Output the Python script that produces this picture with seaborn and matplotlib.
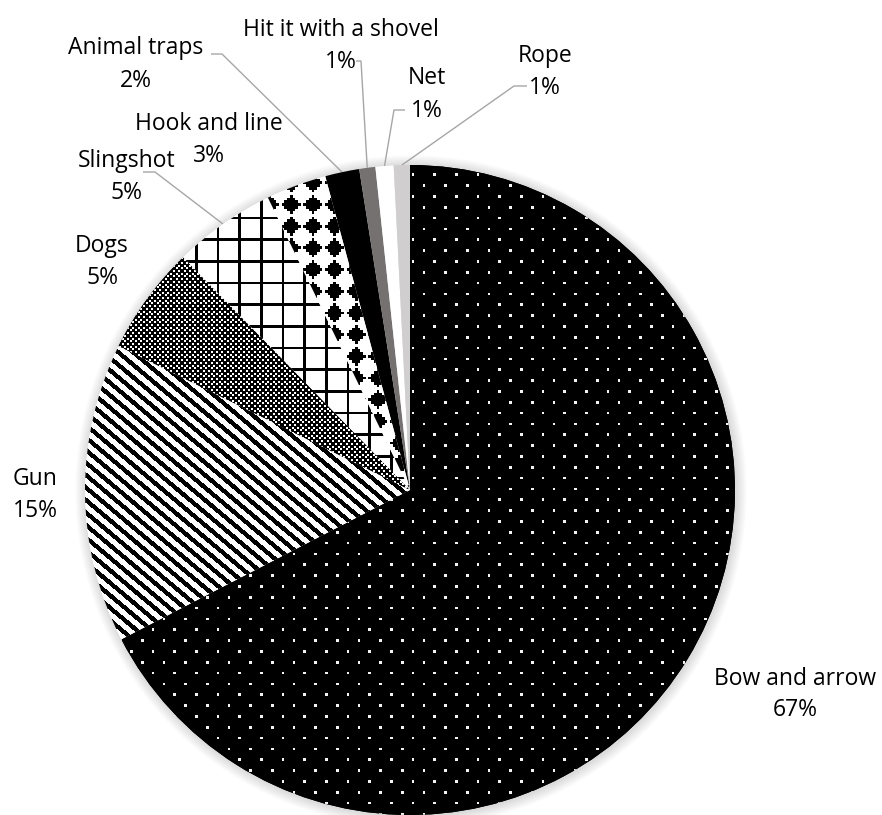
import numpy as np
import matplotlib
matplotlib.use("Agg")
import matplotlib.pyplot as plt
import seaborn as sns
from matplotlib.patches import Circle

# ---------------- data ----------------
categories = ["Bow and arrow", "Gun", "Dogs", "Slingshot", "Hook and line",
              "Animal traps", "Hit it with a shovel", "Net", "Rope"]
values = [67.4, 14.9, 5.4, 5.1, 3.0, 1.7, 0.8, 0.9, 0.8]
pct_labels = ["67%", "15%", "5%", "5%", "3%", "2%", "1%", "1%", "1%"]

# ---------------- style ----------------
sns.set_theme(style="white")
plt.rcParams["font.family"] = ["Open Sans", "DejaVu Sans"]

W, H = 882, 815
fig = plt.figure(figsize=(W / 100, H / 100), dpi=100)
ax = fig.add_axes([0, 0, 1, 1])

cx_px, cy_px, R = 410, 490, 325
center = (cx_px, H - cy_px)

base_colors = ["black", "white", "black", "white", "white",
               "black", "#767171", "white", "#d0cece"]

# soft shadow around the pie
for i in range(12, 0, -1):
    ax.add_patch(Circle((center[0] + 1.0, center[1] - 1.0), R + i * 0.9,
                        color="black", alpha=0.012, lw=0, zorder=0))

wedges, _ = ax.pie(values, startangle=90, counterclock=False, center=center,
                   radius=R, colors=base_colors,
                   wedgeprops=dict(linewidth=0), frame=True)
for w in wedges:
    w.set_zorder(2)

# ---------------- pattern fills ----------------
s = 21.67 / 8.0
yy, xx = np.mgrid[0:H, 0:W]
xc = xx + 0.5
yc = yy + 0.5
tx = np.floor(xc / s).astype(int) % 8
ty = np.floor(yc / s).astype(int) % 8

pat = {}
# Bow and arrow: black with white dots (staggered)
bow = np.zeros((H, W))
bow[((tx == 0) & (ty == 0)) | ((tx == 4) & (ty == 4))] = 0.95
pat[0] = bow
# Gun: wide downward diagonal stripes
slope = 0.84
pv = 12.5
phase = ((yc - xc * slope) % pv) / pv
gun = np.ones((H, W))
gun[phase < 0.46] = 0.0
pat[1] = gun
# Dogs: fine dark checker texture
pd = 5.4
fx = (xc % pd) / pd
fy = (yc % pd) / pd
cellx = np.floor(xc / (pd / 2)).astype(int)
celly = np.floor(yc / (pd / 2)).astype(int)
dogs = np.zeros((H, W))
dogs[((cellx + celly) % 2) == 0] = 1.0
dogs[((xc % (pd / 2)) > 2.0) | ((yc % (pd / 2)) > 2.0)] = 0.0
pat[2] = dogs
# Slingshot: large grid
grid = np.ones((H, W))
grid[(tx == 0) | (ty == 0)] = 0.0
pat[3] = grid
# Hook and line: solid diamonds
hook = np.ones((H, W))
hook[(np.abs(tx - 3) + np.abs(ty - 3)) <= 3] = 0.0
pat[4] = hook

for idx, arr in pat.items():
    im = ax.imshow(arr, cmap="gray", vmin=0, vmax=1, extent=[0, W, 0, H],
                   origin="upper", interpolation="nearest", zorder=3)
    im.set_clip_path(wedges[idx])

# ---------------- labels ----------------
# (x center, baseline of name, baseline of pct) in pixel coords from top
label_pos = {
    "Bow and arrow": (795, 685, 716),
    "Gun": (35, 485, 517),
    "Dogs": (102, 252, 284),
    "Slingshot": (127, 167, 199),
    "Hook and line": (209, 130, 162),
    "Animal traps": (136, 54, 87),
    "Hit it with a shovel": (341, 36, 68),
    "Net": (427, 84, 117),
    "Rope": (545, 62, 94),
}
fs = 16.5
for name, pct in zip(categories, pct_labels):
    x, b1, b2 = label_pos[name]
    ax.text(x, H - b1, name, ha="center", va="baseline", fontsize=fs,
            color="black", zorder=5)
    ax.text(x, H - b2, pct, ha="center", va="baseline", fontsize=fs,
            color="black", zorder=5)

# ---------------- leader lines ----------------
def edge_point(w):
    th = np.deg2rad((w.theta1 + w.theta2) / 2)
    return center[0] + R * np.cos(th), center[1] + R * np.sin(th)

leaders = {
    "Slingshot": [(143, 172), (155, 172)],
    "Animal traps": [(211, 54), (222, 54)],
    "Hit it with a shovel": [(356, 61), (361, 61)],
    "Net": [(405, 110), (394, 110)],
    "Rope": [(527, 86), (514, 86)],
}
for name, pts in leaders.items():
    w = wedges[categories.index(name)]
    ex, ey = edge_point(w)
    xs = [p[0] for p in pts] + [ex]
    ys = [H - p[1] for p in pts] + [ey]
    ax.plot(xs, ys, color="#a6a6a6", lw=1.0, zorder=1.5,
            solid_capstyle="butt")

ax.set_xlim(0, W)
ax.set_ylim(0, H)
ax.set_aspect("auto")
ax.axis("off")
fig.savefig("out.png", dpi=100, facecolor="white")
